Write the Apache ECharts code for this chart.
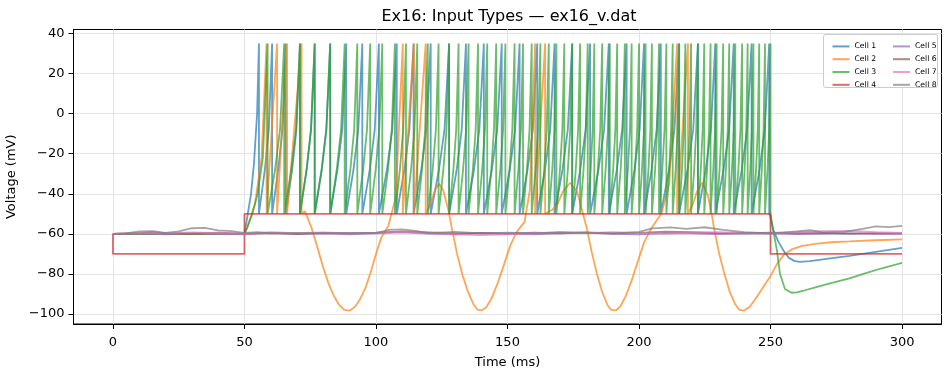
<!DOCTYPE html>
<html>
<head>
<meta charset="utf-8">
<script src="https://cdn.jsdelivr.net/npm/echarts@6/dist/echarts.min.js"></script>
<style>
html,body{margin:0;padding:0;background:#fff;}
#chart{width:950px;height:374px;}
</style>
</head>
<body>
<div id="chart"></div>
<script>
// ---- data ----
const titleText = 'Ex16: Input Types \u2014 ex16_v.dat';
const cellNames = ['Cell 1','Cell 2','Cell 3','Cell 4','Cell 5','Cell 6','Cell 7','Cell 8'];
const xTicks = [0, 50, 100, 150, 200, 250, 300];
const yTicks = [-100, -80, -60, -40, -20, 0, 20, 40];
const spikePeak = 35;
const resetV = -50;
// shape of the rise between reset and next spike: [fraction of interval, mV]
const spikeRiseShape = [[0.45, -28], [0.75, -8]];

// Cell 1 (regular spiking)
const cell1Start = [[0,-60],[50,-60],[51,-52],[52.5,-40],[53.6,-25],[54.8,0]];
const cell1Spikes = [55.5,60.5,65.7,71.1,76.7,82.6,88.7,94.8,101.1,107.9,114.3,120.8,127.8,134.2,141.0,147.8,154.6,161.3,167.9,174.6,181.4,188.5,195.3,201.9,208.3,215.2,222.4,229.0,236.0,242.8,249.5];
const cell1End = [[250,-52],[251,-58],[253,-64],[255,-68.5],[257,-72],[259,-73.5],[261,-74],[265,-73.6],[272,-72.4],[280,-71],[290,-69],[300,-67]];

// Cell 2 (oscillating, bursts)
const cell2 = [[0,-60],[50,-60],[51,-57],[54,-45],[56.5,-22],[58.4,35],[58.4,-50],[62.4,35],[62.4,-50],[66.2,35],[66.2,-50],[71.7,35],[71.7,-50],[73,-48.7],[75.5,-57],[78,-68],[80,-77],[82,-85],[84,-91],[86,-95.5],[88,-98],[90,-98.3],[92,-96.5],[94,-92.5],[96,-87],[98,-79],[100,-70],[102,-62],[104.7,-56],[107.5,-42],[110.2,35],[110.2,-50],[114.4,35],[114.4,-50],[118.9,35],[118.9,-50],[121,-44],[122.5,-38],[124,-35],[125.5,-38],[127.5,-48],[128.8,-57],[131,-71],[133,-81],[135,-89],[137,-95],[138.5,-97.8],[140.3,-98.2],[142,-96.5],[144,-92],[146,-85.5],[148.5,-76],[151,-66],[153.5,-59],[156.5,-54],[158.5,-38],[160.5,35],[160.5,-50],[164.3,35],[164.3,-50],[167,-48],[169,-45],[171,-39],[173.8,-34.5],[176.5,-39],[178.5,-49],[180.1,-57],[182,-69],[184,-80],[186,-89],[188,-95.5],[189.5,-98],[191.3,-98.2],[193,-96],[195,-91],[197,-84],[199.5,-74],[202,-64],[204.8,-57],[208.5,-50],[211.5,-35],[214.5,35],[214.5,-50],[218.6,35],[218.6,-50],[220.5,-45],[222,-39],[224,-34.5],[226,-40],[227.5,-49],[228.5,-57],[230.5,-70],[232.5,-80],[234.5,-89],[236.5,-95],[238.2,-98],[240,-98.3],[242,-96.5],[244,-93],[247,-87],[250,-81],[252.5,-75],[255,-70.5],[258,-67.8],[262,-66],[267,-65],[273,-64.2],[280,-63.8],[290,-63.2],[300,-62.8]];

// Cell 3 (accelerating spiking)
const cell3Start = [[0,-60],[50,-60],[51,-57],[53,-50],[55,-40],[57,-22]];
const cell3Spikes = [58.8,65.1,71.1,76.7,82.6,88.1,92.9,97.8,102.4,107.2,111.4,115.7,119.7,123.8,127.8,131.4,135.2,138.8,142.3,145.7,149.2,152.7,155.9,159.2,162.5,165.7,168.6,171.6,174.6,177.6,180.5,183.0,186.0,188.9,191.7,194.6,197.2,200.0,202.5,204.9,207.6,210.4,212.8,215.3,217.6,219.8,222.4,224.8,227.2,229.5,232.0,234.3,236.6,239.2,241.3,243.5,245.7,247.9,250.0];
const cell3End = [[251,-58],[252.4,-68],[253.6,-80],[255.5,-87.5],[258,-89.4],[260,-89.2],[262.5,-88.4],[267,-86.7],[272.6,-84.7],[280,-82.2],[285.3,-80],[292,-77.3],[300,-74.5]];

// Cell 4 (step clamp)
const cell4 = [[0,-60],[0,-70],[50,-70],[50,-50],[250,-50],[250,-70],[300,-70]];

// Cells 5-8 (near rest, small fluctuations)
const cell5 = [[0,-60],[10,-59.8],[20,-60.2],[30,-59.6],[40,-60],[50,-60.3],[60,-59.5],[70,-60],[80,-59.7],[90,-60.2],[100,-59.8],[110,-59.3],[120,-59.9],[130,-60.3],[140,-59.6],[150,-59.9],[160,-60.2],[170,-59.7],[180,-59.4],[190,-60],[200,-60.3],[210,-59.6],[220,-59.8],[230,-60.1],[240,-59.7],[250,-59.9],[260,-60.1],[270,-60],[280,-59.8],[290,-60],[300,-60]];
const cell6 = [[0,-60],[10,-59.6],[15,-59.2],[20,-59.6],[30,-59.9],[40,-59.4],[50,-59.9],[60,-59.6],[70,-60.1],[80,-59.5],[90,-59.8],[100,-59.4],[110,-58.8],[120,-59.3],[130,-59.8],[140,-59.5],[150,-59.9],[160,-59.4],[170,-59.7],[180,-59.3],[190,-59.8],[200,-59.5],[210,-58.9],[220,-59.2],[230,-59.6],[240,-59.8],[250,-59.4],[260,-59.7],[270,-59.5],[280,-59.9],[290,-59.6],[300,-59.8]];
const cell7 = [[0,-60],[10,-59.5],[20,-59.8],[30,-59.3],[40,-59.7],[50,-60],[60,-59.2],[70,-59.6],[80,-59.3],[90,-59.8],[100,-59.5],[110,-59],[120,-59.6],[130,-60.3],[140,-60.6],[150,-60.2],[160,-59.7],[170,-59.3],[180,-59.6],[190,-59.2],[200,-59.6],[210,-59.9],[220,-59.4],[230,-59.1],[240,-59.6],[250,-59.8],[260,-59.2],[270,-58.6],[280,-58.5],[290,-59.2],[300,-59.5]];
const cell8 = [[0,-60],[5,-59.8],[10,-58.8],[15,-58.6],[20,-59.5],[25,-58.8],[30,-57.2],[35,-57],[40,-58.3],[45,-58.6],[50,-59.5],[55,-59.2],[60,-59.8],[70,-59.5],[80,-59.8],[90,-59.5],[100,-59.6],[105,-58],[110,-57.8],[115,-58.5],[120,-59.6],[130,-59],[140,-59.8],[150,-59.4],[160,-59.8],[170,-59.2],[180,-59.5],[190,-59.8],[200,-59],[205,-57.3],[212,-56.8],[218,-57.5],[225,-56.7],[232,-58],[240,-59.2],[250,-59.8],[260,-58.8],[265,-58.2],[270,-59.3],[278,-59],[285,-57.5],[290,-56.3],[295,-56.6],[300,-56]];

const colors = ['rgba(31,119,180,0.7)','rgba(255,127,14,0.7)','rgba(44,160,44,0.7)','rgba(214,39,40,0.7)','rgba(148,103,189,0.7)','rgba(140,86,75,0.7)','rgba(227,119,194,0.7)','rgba(127,127,127,0.7)'];

function spikeTrain(start, spikes, end) {
  const out = start.slice();
  spikes.forEach(function (t, i) {
    if (i > 0) {
      const t0 = spikes[i - 1];
      spikeRiseShape.forEach(function (p) { out.push([t0 + p[0] * (t - t0), p[1]]); });
    }
    out.push([t, spikePeak]);
    out.push([t, resetV]);
  });
  return out.concat(end);
}

const seriesData = [
  spikeTrain(cell1Start, cell1Spikes, cell1End),
  cell2,
  spikeTrain(cell3Start, cell3Spikes, cell3End),
  cell4, cell5, cell6, cell7, cell8
];

const FONT = 'DejaVu Sans';
const fmt = function (v) { return v < 0 ? '\u2212' + (-v) : String(v); };
const axisCommon = {
  axisLine: {show: true, onZero: false, lineStyle: {color: '#000', width: 1}},
  splitLine: {show: true, lineStyle: {color: '#e4e4e4', width: 1}}
};

const chart = echarts.init(document.getElementById('chart'), null, {renderer: 'canvas'});
chart.setOption({
  animation: false,
  backgroundColor: '#fff',
  title: {
    text: titleText, left: 504, top: 4, textAlign: 'center',
    textStyle: {fontFamily: FONT, fontSize: 16, fontWeight: 'normal', color: '#000'}
  },
  grid: {left: 73.5, right: 8.5, top: 29.5, bottom: 50, show: true, borderColor: '#000', borderWidth: 1,
         backgroundColor: 'transparent', containLabel: false, outerBoundsMode: 'none'},
  xAxis: Object.assign({
    type: 'value', min: -15, max: 315,
    name: 'Time (ms)', nameLocation: 'middle', nameGap: 32,
    nameTextStyle: {fontFamily: FONT, fontSize: 13, color: '#000'},
    axisTick: {show: true, inside: false, length: 5, lineStyle: {color: '#000', width: 1}, customValues: xTicks},
    axisLabel: {fontFamily: FONT, fontSize: 13, color: '#000', margin: 12, customValues: xTicks, formatter: fmt}
  }, axisCommon),
  yAxis: Object.assign({
    type: 'value', min: -105, max: 42,
    name: 'Voltage (mV)', nameLocation: 'middle', nameGap: 48,
    nameTextStyle: {fontFamily: FONT, fontSize: 13, color: '#000'},
    axisTick: {show: true, inside: false, length: 5, lineStyle: {color: '#000', width: 1}, customValues: yTicks},
    axisLabel: {fontFamily: FONT, fontSize: 13, color: '#000', margin: 9, customValues: yTicks, formatter: fmt}
  }, axisCommon),
  legend: [
    {data: cellNames.slice(0,4), orient: 'vertical', left: 827.5, top: 35, itemGap: 0, itemWidth: 17, itemHeight: 2, icon: 'rect', z: 120,
     itemStyle: {borderWidth: 0}, textStyle: {fontFamily: FONT, fontSize: 7.7, color: '#000', lineHeight: 12.8}, selectedMode: false},
    {data: cellNames.slice(4,8), orient: 'vertical', left: 888, top: 35, itemGap: 0, itemWidth: 17, itemHeight: 2, icon: 'rect', z: 120,
     itemStyle: {borderWidth: 0}, textStyle: {fontFamily: FONT, fontSize: 7.7, color: '#000', lineHeight: 12.8}, selectedMode: false}
  ],
  graphic: [{
    type: 'rect', z: 100, silent: true,
    shape: {x: 823.5, y: 34.5, width: 114, height: 53, r: 2},
    style: {fill: 'rgba(255,255,255,0.8)', stroke: '#cccccc', lineWidth: 1}
  }],
  series: seriesData.map(function (d, i) {
    return {
      name: cellNames[i], type: 'line', data: d, showSymbol: false, symbol: 'none',
      color: colors[i], itemStyle: {color: colors[i]},
      lineStyle: {color: colors[i], width: 1.8}, z: 2 + i * 0.01, silent: true
    };
  })
});
</script>
</body>
</html>
